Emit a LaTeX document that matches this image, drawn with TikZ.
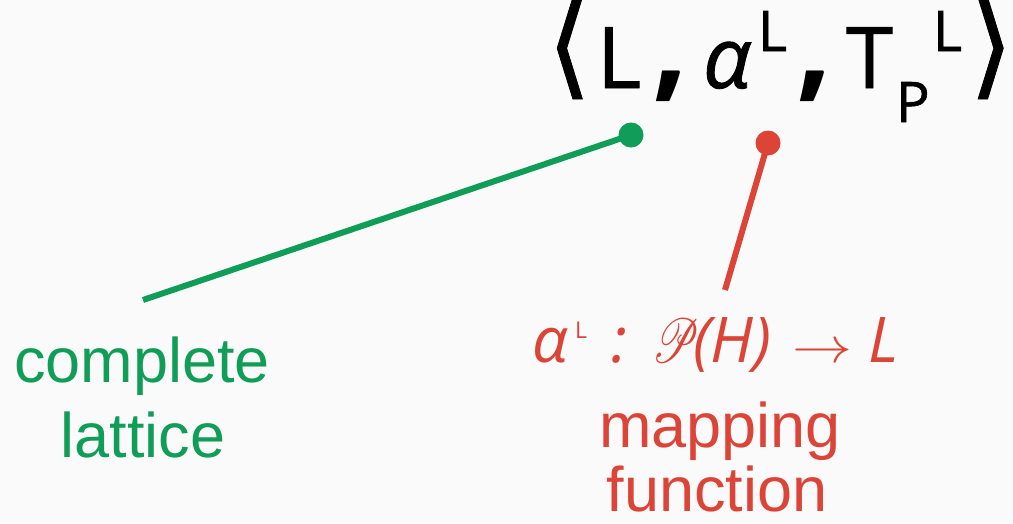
\documentclass[tikz,border=0pt]{standalone}
\usepackage{fontspec}
\usepackage{mathrsfs}
\setmainfont{Liberation Sans}
\newfontfamily\osans{Open Sans}
\newfontfamily\osanst[FakeBold=1]{Open Sans}
\newfontfamily\dvsb[FakeBold=0.7]{DejaVu Sans}
\definecolor{bg}{HTML}{FAFAFA}
\definecolor{gr}{HTML}{0F9D58}
\definecolor{rd}{HTML}{DB4437}
\tikzset{
  txt/.style={inner sep=0pt, outer sep=0pt, anchor=base west},
  big/.style={font=\fontsize{85}{85}\selectfont\osanst},
  small/.style={font=\fontsize{56}{56}\selectfont\osanst},
  brk/.style={font=\fontsize{60}{60}\selectfont\dvsb},
  cma/.style={font=\fontsize{60}{60}\selectfont\osans\bfseries},
  lbl/.style={inner sep=0pt, outer sep=0pt, anchor=base, font=\fontsize{63}{63}\selectfont},
  fml/.style={txt, text=rd, font=\fontsize{63}{63}\selectfont\osans\itshape},
  dot/.style={circle, inner sep=0pt, minimum size=25pt},
  conn/.style={line width=6pt}
}
\begin{document}
\begin{tikzpicture}[x=1pt,y=-1pt]
\fill[bg] (0,0) rectangle (1013,523);
\useasboundingbox (0,0) rectangle (1013,523);
% top tuple
\node[txt, brk] (lang) at (547,84) {\scalebox{1.9}{⟨}};
\node[txt, big] (tL) at (597,88) {L};
\node[txt, cma] (c1) at (652,85) {\scalebox{2.083}{,}};
\node[txt, big, font=\fontsize{85}{85}\selectfont\osanst\itshape] (ta) at (703,88) {α};
\node[txt, small] (taL) at (758,51) {L};
\node[txt, cma] (c2) at (796,85) {\scalebox{2.083}{,}};
\node[txt, big] (tT) at (846,88) {T};
\node[txt, small] (tP) at (896,122) {P};
\node[txt, small] (tTL) at (933,51) {L};
\node[txt, brk] (rang) at (969,84) {\scalebox{1.9}{⟩}};
% dots
\node[dot, fill=gr] (gd) at (631,135) {};
\node[dot, fill=rd] (rd) at (768,143) {};
\coordinate (ge) at (143,300);
\coordinate (re) at (725,290);
\draw[conn, gr] (gd.center) -- (ge);
\draw[conn, rd] (rd.center) -- (re);
% green label
\node[lbl, text=gr] (cl1) at (142,382) {complete};
\node[lbl, text=gr] (cl2) at (143,457) {lattice};
% red formula
\node[fml] (fa) at (532,362) {α};
\node[fml, font=\fontsize{23}{23}\selectfont\osans] (faL) at (575,338) {L};
\node[fml] (fcol) at (611,362) {:};
\node[fml, font=\fontsize{10}{10}\selectfont] (fP) at (652,362) {\scalebox{4.3}[6.2]{$\mathscr{P}$}};
\node[fml] (fH) at (693,362) {(H)};
\node[fml, font=\fontsize{10}{10}\selectfont] (farr) at (792,362) {\scalebox{6}[5]{$\rightarrow$}};
\node[fml] (fL) at (868,362) {L};
% red label
\node[lbl, text=rd] (mf1) at (720,447) {mapping};
\node[lbl, text=rd] (mf2) at (717,511) {function};
\end{tikzpicture}
\end{document}
